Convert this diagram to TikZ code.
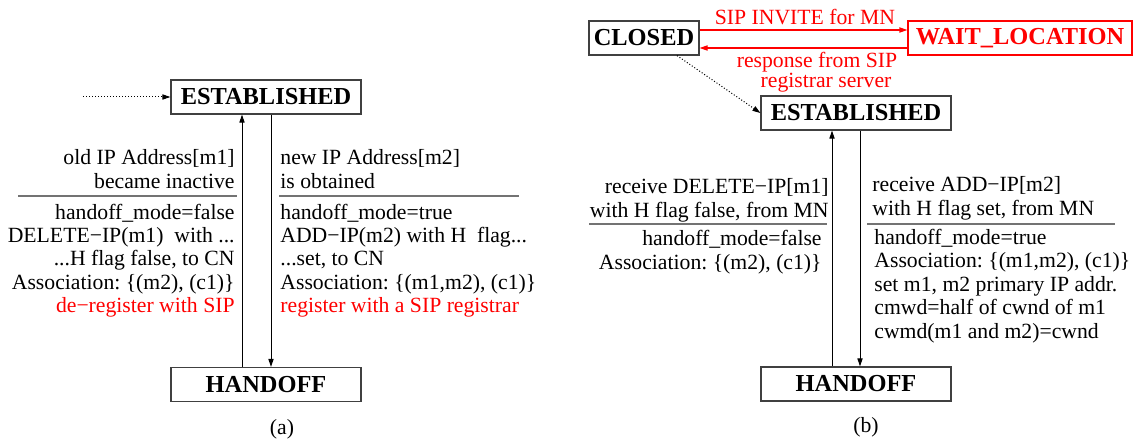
\documentclass[tikz,border=0pt]{standalone}
\usepackage{fontspec}
\setmainfont{Liberation Serif}
\usetikzlibrary{arrows.meta}
\tikzset{
  state/.style={draw=black!75, line width=0.6pt, font=\bfseries\fontsize{12.2}{14}\selectfont,
    minimum width=95pt, minimum height=17pt, inner sep=0pt},
  lbl/.style={font=\fontsize{10.85}{11.75}\selectfont\frenchspacing, inner sep=0pt},
  rulel/.style={draw=black!55, line width=0.9pt},
  arr/.style={line width=0.5pt, -{Triangle[length=4pt,width=2.6pt]}},
  dotarr/.style={arr, densely dotted},
  redarr/.style={arr, draw=red, fill=red, line width=0.6pt},
}
\begin{document}
\begin{tikzpicture}[x=0.5pt,y=-0.5pt]
\useasboundingbox (0,0) rectangle (1135,443);

% ---------------- (a) ----------------
\node[state] (ESTa) at (266,97) {ESTABLISHED};
\node[state] (HOa) at (266,384.5) {HANDOFF};
\coordinate (dotA) at (83,97);
\draw[dotarr] (dotA) -- (ESTa.west);
\draw[arr] ([xshift=-12pt]HOa.north) -- ([xshift=-12pt]ESTa.south);
\draw[arr] ([xshift=2.5pt]ESTa.south) -- ([xshift=2.5pt]HOa.north);

% base anchor = baseline of the last line
\node[lbl, align=right, anchor=base east] (a1) at (235,188.5) {old IP Address[m1]\\became inactive};
\node[lbl, align=left, anchor=base west] (a2) at (280,188.5) {new IP Address[m2]\\is obtained};
\coordinate (rA1) at (18,196); \coordinate (rA2) at (237,196);
\coordinate (rA3) at (279,196); \coordinate (rA4) at (519,196);
\draw[rulel] (rA1) -- (rA2);
\draw[rulel] (rA3) -- (rA4);
\node[lbl, align=right, anchor=base east] (a3) at (235,313)
  {handoff\_mode=false\\DELETE−IP(m1)\ \ with ...\\...H flag false, to CN\\Association: \{(m2), (c1)\}\\\textcolor{red}{de−register with SIP}};
\node[lbl, align=left, anchor=base west] (a4) at (280,313)
  {handoff\_mode=true\\ADD−IP(m2) with H\ \ flag...\\...set, to CN\\Association: \{(m1,m2), (c1)\}\\\textcolor{red}{register with a SIP registrar}};
\node[lbl, anchor=base] (capa) at (282,434) {(a)};

% ---------------- (b) ----------------
\node[state, minimum width=55pt] (CL) at (644,38) {CLOSED};
\node[state, draw=red, text=red, minimum width=112pt] (WL) at (1020,38) {WAIT\_LOCATION};
\draw[redarr] ([yshift=4pt]CL.east) -- ([yshift=4pt]WL.west);
\draw[redarr] ([yshift=-5pt]WL.west) -- ([yshift=-5pt]CL.east);
\node[lbl, text=red, anchor=base] (sipinv) at (805,25) {SIP INVITE for MN};
\node[lbl, text=red, anchor=base] (resp1) at (817,68) {response from SIP};
\node[lbl, text=red, anchor=base] (resp2) at (826,88) {registrar server};

\node[state] (ESTb) at (856,113) {ESTABLISHED};
\node[state] (HOb) at (856,384) {HANDOFF};
\draw[dotarr] ([xshift=16.5pt]CL.south) -- (ESTb.west);
\draw[arr] ([xshift=-12pt]HOb.north) -- ([xshift=-12pt]ESTb.south);
\draw[arr] ([xshift=2pt]ESTb.south) -- ([xshift=2pt]HOb.north);

\node[lbl, align=right, anchor=base east] (b1) at (829,217.5) {receive DELETE−IP[m1]\\with H flag false, from MN};
\node[lbl, align=left, anchor=base west] (b3) at (872,215.5) {receive ADD−IP[m2]\\with H flag set, from MN};
\coordinate (rB1) at (589,224); \coordinate (rB2) at (827,224);
\coordinate (rB3) at (867,224); \coordinate (rB4) at (1115,224);
\draw[rulel] (rB1) -- (rB2);
\draw[rulel] (rB3) -- (rB4);
\node[lbl, align=right, anchor=base east] (b2) at (822,269.5) {handoff\_mode=false\\Association: \{(m2), (c1)\}};
\node[lbl, align=left, anchor=base west] (b4) at (874,338)
  {handoff\_mode=true\\Association: \{(m1,m2), (c1)\}\\set m1, m2 primary IP addr.\\cmwd=half of cwnd of m1\\cwmd(m1 and m2)=cwnd};
\node[lbl, anchor=base] (capb) at (866,432) {(b)};
\end{tikzpicture}
\end{document}
